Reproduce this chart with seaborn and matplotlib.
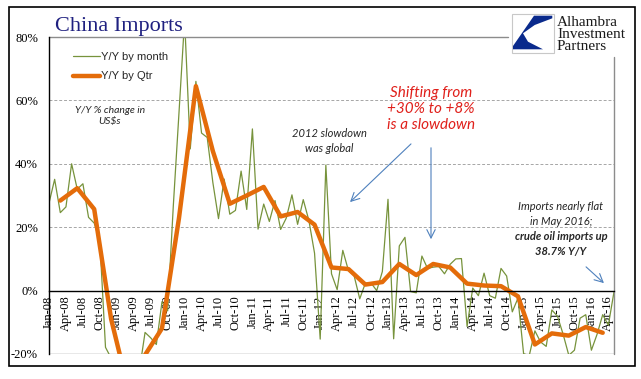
import matplotlib
matplotlib.use("Agg")
import matplotlib.pyplot as plt
import seaborn as sns
import pandas as pd
from matplotlib.patches import Rectangle, Polygon

# Monthly Y/Y % change in China imports (US$), Jan-08 .. May-16
monthly_yoy = [27.6, 35.1, 24.6, 26.4, 40.0, 32.0, 33.7, 23.1, 21.3, 15.6, -17.9, -21.3,
               -43.1, -24.1, -25.1, -23.0, -25.2, -13.2, -14.9, -17.0, -3.5, -6.4, 26.7, 55.9,
               85.5, 44.7, 66.0, 49.7, 48.3, 34.1, 22.7, 35.2, 24.1, 25.3, 37.7, 25.6,
               51.0, 19.4, 27.3, 21.8, 28.4, 19.3, 22.9, 30.2, 20.9, 28.7, 22.1, 11.8,
               -15.3, 39.6, 5.3, 0.3, 12.7, 6.3, 4.7, -2.6, 2.4, 2.4, 0.0, 6.0,
               28.8, -15.2, 14.1, 16.8, -0.3, -0.7, 10.9, 7.0, 7.4, 7.6, 5.3, 8.3,
               10.0, 10.1, -11.3, 0.8, -1.6, 5.5, -1.6, -2.4, 7.0, 4.6, -6.7, -2.4,
               -19.9, -20.5, -12.7, -16.2, -17.6, -6.1, -8.1, -13.8, -20.4, -18.8, -8.7, -7.6,
               -18.8, -13.8, -7.6, -10.9, -0.4]

# Quarterly Y/Y, plotted at the last month of each quarter (Mar-08 .. Mar-16)
quarterly_yoy = [28.4, 32.3, 25.7, -9.0, -30.9, -20.3, -11.9, 22.8, 64.5, 44.0, 27.4,
                 30.0, 32.7, 23.4, 24.8, 20.8, 7.3, 6.8, 1.9, 2.7, 8.4, 4.9, 8.4, 7.3,
                 2.2, 1.6, 1.4, -1.8, -17.0, -13.5, -14.2, -11.5, -13.3]

months = pd.date_range("2008-01-01", periods=len(monthly_yoy), freq="MS")
month_idx = list(range(len(months)))
tick_idx = month_idx[::3]
tick_labels = [d.strftime("%b-%y") for d in months[::3]]

y_ticks = [-20, 0, 20, 40, 60, 80]
y_labels = ["-20%", "0%", "20%", "40%", "60%", "80%"]

df_m = pd.DataFrame({"month": month_idx, "yoy": monthly_yoy})
df_q = pd.DataFrame({"month": month_idx[2::3], "yoy": quarterly_yoy})

sns.set_style("white")

W, H = 641, 379
def fx(px):
    return px / W
def fy(py):
    return 1 - py / H

fig = plt.figure(figsize=(6.41, 3.79), dpi=100)
ax = fig.add_axes([fx(49), fy(354), 565 / W, 317 / H])

green = "#77933C"
orange = "#E46C0A"
grey = "#8C8C8C"

sns.lineplot(data=df_m, x="month", y="yoy", ax=ax, color=green, linewidth=0.9,
             label="Y/Y by month")
sns.lineplot(data=df_q, x="month", y="yoy", ax=ax, color=orange, linewidth=3.2,
             label="Y/Y by Qtr")

ax.set_xlim(0, 100)
ax.set_ylim(-20, 80)
ax.set_xlabel("")
ax.set_ylabel("")

# gridlines
for v in [20, 40, 60]:
    ax.axhline(v, color="#A6A6A6", lw=0.7, ls=(0, (3, 2)), zorder=0)
ax.axhline(-20, color=grey, lw=1.0, zorder=0)
ax.axhline(80, xmax=(508 - 49) / 565, color=grey, lw=1.0, clip_on=False)
ax.axvline(100, ymax=(354 - 57) / 317, color=grey, lw=1.0, clip_on=False)

for s in ["top", "right"]:
    ax.spines[s].set_visible(False)
ax.spines["left"].set_color("black")
ax.spines["left"].set_linewidth(1.0)
ax.spines["bottom"].set_position(("data", 0))
ax.spines["bottom"].set_color("black")
ax.spines["bottom"].set_linewidth(1.0)

ax.set_xticks(tick_idx)
ax.set_xticklabels(tick_labels, rotation=90, fontsize=9, family="Liberation Serif")
ax.tick_params(axis="x", direction="inout", length=5, width=0.8, pad=1, colors="black")
ax.set_yticks(y_ticks)
ax.set_yticklabels(y_labels, fontsize=9, family="Liberation Serif")
ax.tick_params(axis="y", direction="out", length=3, width=0.8, pad=5, colors="black")

ax.legend(loc="upper left", bbox_to_anchor=(fx(73), fy(52)), bbox_transform=fig.transFigure,
          frameon=False, handlelength=2.4, handletextpad=0.1, labelspacing=0.85,
          borderpad=0, borderaxespad=0, prop=dict(family="Liberation Sans", size=8))

# title
fig.text(fx(55), fy(31), "China Imports", family="Liberation Serif", fontsize=16,
         color="#1F2080", va="baseline")

# annotations
fig.text(fx(110), fy(116), "Y/Y % change in\nUS$s", family="Lato", style="italic",
         fontsize=7.5, ha="center", va="center", linespacing=1.3)
fig.text(fx(329), fy(141), "2012 slowdown\nwas global", family="Lato", style="italic",
         fontsize=8, ha="center", va="center", linespacing=1.35)
fig.text(fx(431), fy(109), "Shifting from\n+30% to +8%\nis a slowdown", family="Lato",
         style="italic", fontsize=11, color="#E0201B", ha="center", va="center",
         linespacing=1.2)
fig.text(fx(561), fy(214), "Imports nearly flat\nin May 2016;", family="Lato",
         style="italic", fontsize=8, ha="center", va="center", linespacing=1.4)
fig.text(fx(561), fy(244), "crude oil imports up\n38.7% Y/Y", family="Lato",
         style="italic", weight="bold", fontsize=8, ha="center", va="center",
         linespacing=1.4)

arrow = dict(arrowstyle="->,head_length=0.6,head_width=0.3", color="#4F81BD", lw=0.8)
for start, end in [((413, 142), (348, 204)), ((431, 145), (431, 242)), ((584, 265), (606, 285))]:
    ax.annotate("", xy=(fx(end[0]), fy(end[1])), xytext=(fx(start[0]), fy(start[1])),
                xycoords="figure fraction", textcoords="figure fraction", arrowprops=arrow)

# logo
fig.add_artist(Rectangle((fx(512), fy(53)), 42 / W, 39 / H, transform=fig.transFigure,
                         fill=True, fc="white", ec="#C8C8C8", lw=0.8))
logo_pts = [(552.3, 15.7), (534, 15.7), (513, 46), (513, 49.3), (543, 49.3),
            (528, 41.7), (523, 33.3), (534.7, 25), (552.3, 18.3)]
fig.add_artist(Polygon([(fx(x), fy(y)) for x, y in logo_pts], closed=True,
                       transform=fig.transFigure, fc="#0A2A8C", ec="none"))
for i, word in enumerate(["Alhambra", "Investment", "Partners"]):
    fig.text(fx(557), fy(26 + 12 * i), word, family="Liberation Serif", fontsize=11,
             va="baseline", color="#1A1A1A")

# outer frame
fig.add_artist(Rectangle((fx(9), fy(366)), 626 / W, 359 / H, transform=fig.transFigure,
                         fill=False, ec="black", lw=1.2))

fig.savefig("out.png", dpi=100)
